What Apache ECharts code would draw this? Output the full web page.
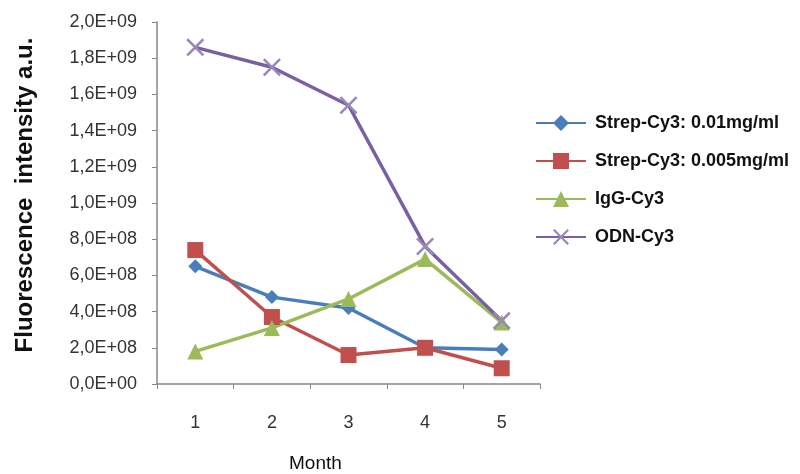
<!DOCTYPE html>
<html>
<head>
<meta charset="utf-8">
<script src="https://cdn.jsdelivr.net/npm/echarts@6/dist/echarts.min.js"></script>
<style>
  html, body { margin: 0; padding: 0; background: #fff; }
  #chart { width: 800px; height: 474px; }
</style>
</head>
<body>
<div id="chart"></div>
<script>
const months = ["1", "2", "3", "4", "5"];
const strep001 = [6.5e8, 4.8e8, 4.2e8, 2.0e8, 1.9e8];
const strep0005 = [7.4e8, 3.7e8, 1.6e8, 2.0e8, 0.87e8];
const iggCy3 = [1.8e8, 3.1e8, 4.7e8, 6.9e8, 3.4e8];
const odnCy3 = [1.86e9, 1.75e9, 1.54e9, 0.76e9, 0.35e9];

const crossPath = "path://M0,1L1,0L5,4L9,0L10,1L6,5L10,9L9,10L5,6L1,10L0,9L4,5Z";

// excel style scientific label, comma decimal
function sciLabel(v) {
  if (v === 0) return "0,0E+00";
  let e = Math.floor(Math.log10(v) + 1e-9);
  let m = (v / Math.pow(10, e)).toFixed(1).replace(".", ",");
  return m + "E+" + String(e).padStart(2, "0");
}

const chart = echarts.init(document.getElementById("chart"));

function lineSeries(name, data, color, symbol, size, symColor) {
  return {
    name: name,
    type: "line",
    data: data,
    symbol: symbol,
    symbolSize: size,
    lineStyle: { color: color, width: 3.5 },
    itemStyle: { color: symColor || color },
    emphasis: { disabled: true },
    animation: false
  };
}

chart.setOption({
  color: ["#4a7ebb", "#c0504d", "#9bbb59", "#7b5fa3"],
  title: {
    text: "Month",
    left: 284,
    top: 449,
    textStyle: { fontFamily: "Liberation Sans", fontSize: 19, fontWeight: "normal", color: "#111" }
  },
  legend: {
    orient: "vertical",
    left: 530,
    top: 108,
    itemGap: 18,
    itemWidth: 50,
    itemHeight: 20,
    textStyle: { fontFamily: "Liberation Sans", fontSize: 18, lineHeight: 20, fontWeight: "bold", color: "#111", padding: [0, 0, 0, 4] },
    data: ["Strep-Cy3: 0.01mg/ml", "Strep-Cy3: 0.005mg/ml", "IgG-Cy3", "ODN-Cy3"]
  },
  grid: { left: 157, right: 260, top: 22, bottom: 90 },
  xAxis: {
    type: "category",
    data: months,
    boundaryGap: true,
    axisLine: { lineStyle: { color: "#888", width: 1.5 } },
    axisTick: { show: true, alignWithLabel: false, length: 5, lineStyle: { color: "#888" } },
    axisLabel: { margin: 30, fontFamily: "Liberation Sans", fontSize: 18, color: "#333" },
    splitLine: { show: false }
  },
  yAxis: {
    type: "value",
    min: 0,
    max: 2e9,
    interval: 2e8,
    name: "Fluorescence  intensity a.u.",
    nameLocation: "middle",
    nameGap: 120,
    nameTextStyle: { fontFamily: "Liberation Sans", fontSize: 24, fontWeight: "bold", color: "#111", padding: [0, 0, 0, 16] },
    axisLine: { show: true, lineStyle: { color: "#888", width: 1.5 } },
    axisTick: { show: true, length: 5, lineStyle: { color: "#888" } },
    axisLabel: { margin: 20, fontFamily: "Liberation Sans", fontSize: 18, color: "#333", formatter: sciLabel },
    splitLine: { show: false }
  },
  series: [
    lineSeries("Strep-Cy3: 0.01mg/ml", strep001, "#4a7ebb", "diamond", 14),
    lineSeries("Strep-Cy3: 0.005mg/ml", strep0005, "#c0504d", "rect", 16),
    lineSeries("IgG-Cy3", iggCy3, "#9bbb59", "triangle", 16),
    lineSeries("ODN-Cy3", odnCy3, "#7b5fa3", crossPath, 18, "#9a88b8")
  ]
});
</script>
</body>
</html>
